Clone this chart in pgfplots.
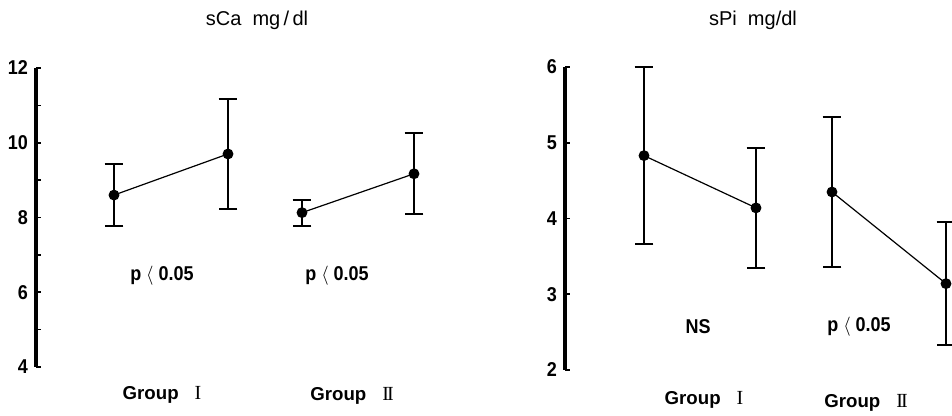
\documentclass[border=0pt]{standalone}
\usepackage{fontspec}
\setmainfont{Liberation Sans}
\newfontfamily\serifI{Liberation Serif}
\newfontfamily\narrow[FakeStretch=0.9]{Liberation Sans}
\usepackage{pgfplots}
\pgfplotsset{compat=1.18}
\pgfplotsset{
 panel/.style={
  scale only axis, anchor=south west, clip=false,
  xmin=0, xmax=4, width=300pt,
  hide x axis, axis y line*=left,
  y axis line style={line width=2.3pt},
  tick align=inside, major tick length=3.5pt, minor tick length=3.5pt,
  tick style={black, line width=1.2pt},
  yticklabel style={font=\fontsize{15}{15}\selectfont\narrow\bfseries, xshift=-2.5pt},
  /pgf/number format/assume math mode=true,
 },
 grp/.style={black, line width=0.9pt, mark=*, mark size=3.6pt,
  mark options={solid, fill=black},
  error bars/.cd, y dir=both, y explicit,
  error bar style={line width=2pt},
  error mark options={rotate=90, mark size=7pt, line width=1.5pt}},
}
\newcommand{\gI}{{\serifI\mdseries\fontsize{15}{15}\selectfont I}}
\newcommand{\gII}{{\serifI\mdseries\fontsize{15}{15}\selectfont I\kern-1.5pt I}}
\begin{document}
\begin{tikzpicture}
\path[use as bounding box] (0,0) rectangle (714pt,312pt);
% left panel: sCa
\begin{axis}[panel, at={(27pt,36.75pt)}, height=224.25pt,
  ymin=4, ymax=12, ytick={4,6,8,10,12}, minor ytick={5,7,9,11}]
\addplot+[grp] coordinates {(0.78,8.60) +- (0,0.83) (1.92,9.70) +- (0,1.47)};
\addplot+[grp] coordinates {(2.66,8.13) +- (0,0.35) (3.78,9.17) +- (0,1.08)};
\end{axis}
% right panel: sPi
\begin{axis}[panel, at={(423.75pt,34.5pt)}, height=227.25pt,
  ymin=2, ymax=6, ytick={2,3,4,5,6}]
\addplot+[grp] coordinates {(0.79,4.83) +- (0,1.17) (1.91,4.14) +- (0,0.79)};
\addplot+[grp] coordinates {(2.67,4.35) +- (0,0.99) (3.81,3.14) +- (0,0.81)};
\end{axis}
% titles
\node[font=\fontsize{15}{15}\selectfont] at (192.75pt,297pt) {sCa\ \ mg\,/\,dl};
\node[font=\fontsize{15}{15}\selectfont] at (564.75pt,297pt) {sPi\ \ mg/dl};
% statistics
\node[font=\fontsize{15}{15}\selectfont\narrow\bfseries] at (121.5pt,105pt) {p $\langle$ 0.05};
\node[font=\fontsize{15}{15}\selectfont\narrow\bfseries] at (252.75pt,105pt) {p $\langle$ 0.05};
\node[font=\fontsize{15}{15}\selectfont\narrow\bfseries] at (523.5pt,66.75pt) {NS};
\node[font=\fontsize{15}{15}\selectfont\narrow\bfseries] at (644.25pt,66.75pt) {p $\langle$ 0.05};
% group labels
\node[font=\fontsize{14}{14}\selectfont\bfseries] at (121.5pt,15.75pt) {Group\hspace{12pt}\gI};
\node[font=\fontsize{14}{14}\selectfont\bfseries] at (264pt,15pt) {Group\hspace{12pt}\gII};
\node[font=\fontsize{14}{14}\selectfont\bfseries] at (528pt,12pt) {Group\hspace{12pt}\gI};
\node[font=\fontsize{14}{14}\selectfont\bfseries] at (649.5pt,9.75pt) {Group\hspace{12pt}\gII};
\end{tikzpicture}
\end{document}
